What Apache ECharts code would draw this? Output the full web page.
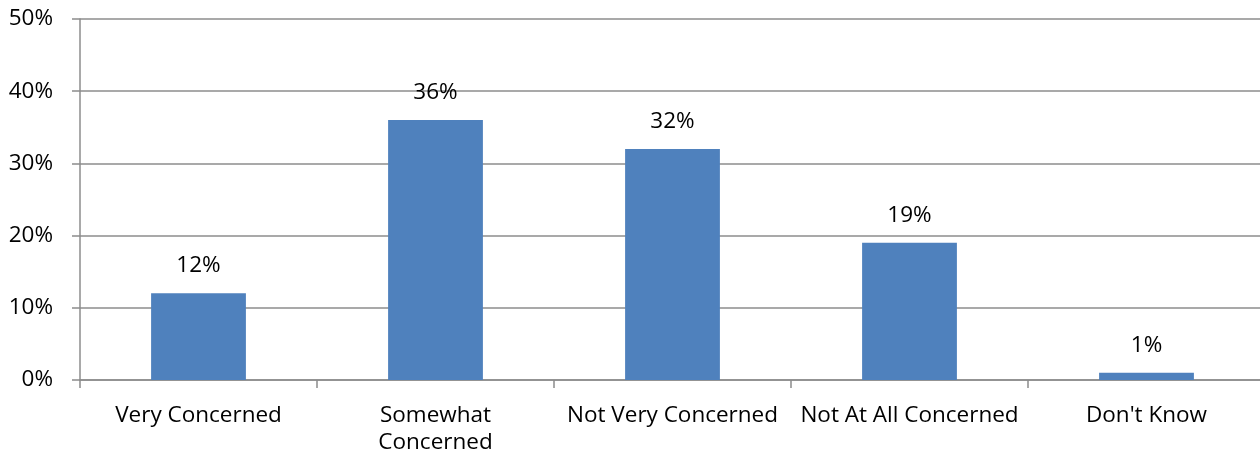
<!DOCTYPE html>
<html>
<head>
<meta charset="utf-8">
<script src="https://cdn.jsdelivr.net/npm/echarts@6/dist/echarts.min.js"></script>
<style>html,body{margin:0;padding:0;background:#fff;}#chart{width:1260px;height:456px;}</style>
</head>
<body>
<div id="chart"></div>
<script>
const categories = ["Very Concerned", "Somewhat\nConcerned", "Not Very Concerned", "Not At All Concerned", "Don't Know"];
const values = [12, 36, 32, 19, 1];
const yTicks = { min: 0, max: 50, interval: 10 };

const FONT = "'Open Sans', 'Noto Sans', sans-serif";
const chart = echarts.init(document.getElementById('chart'), null, { renderer: 'canvas' });
chart.setOption({
  animation: false,
  backgroundColor: '#ffffff',
  grid: { left: 80, right: -5, top: 19, bottom: 76, containLabel: false, outerBoundsMode: 'none' },
  xAxis: {
    type: 'category',
    data: categories,
    axisLine: { lineStyle: { color: '#8c8c8c', width: 1.5 } },
    axisTick: { show: true, length: 8, alignWithLabel: false, lineStyle: { color: '#8c8c8c', width: 1.5 } },
    axisLabel: { color: '#000', fontFamily: FONT, fontSize: 22.5, margin: 22, lineHeight: 27, interval: 0 }
  },
  yAxis: {
    type: 'value',
    min: yTicks.min, max: yTicks.max, interval: yTicks.interval,
    axisLine: { show: true, lineStyle: { color: '#8c8c8c', width: 1.5 } },
    axisTick: { show: true, length: 8, lineStyle: { color: '#8c8c8c', width: 1.5 } },
    splitLine: { show: true, lineStyle: { color: '#8c8c8c', width: 1.5 } },
    axisLabel: { color: '#000', fontFamily: FONT, fontSize: 22.5, margin: 27, formatter: '{value}%' }
  },
  series: [{
    type: 'bar',
    data: values,
    barWidth: '40%',
    itemStyle: { color: '#4f81bd' },
    label: { show: true, position: 'top', distance: 16, color: '#000', fontFamily: FONT, fontSize: 22.5, formatter: '{c}%' }
  }]
});
</script>
</body>
</html>
